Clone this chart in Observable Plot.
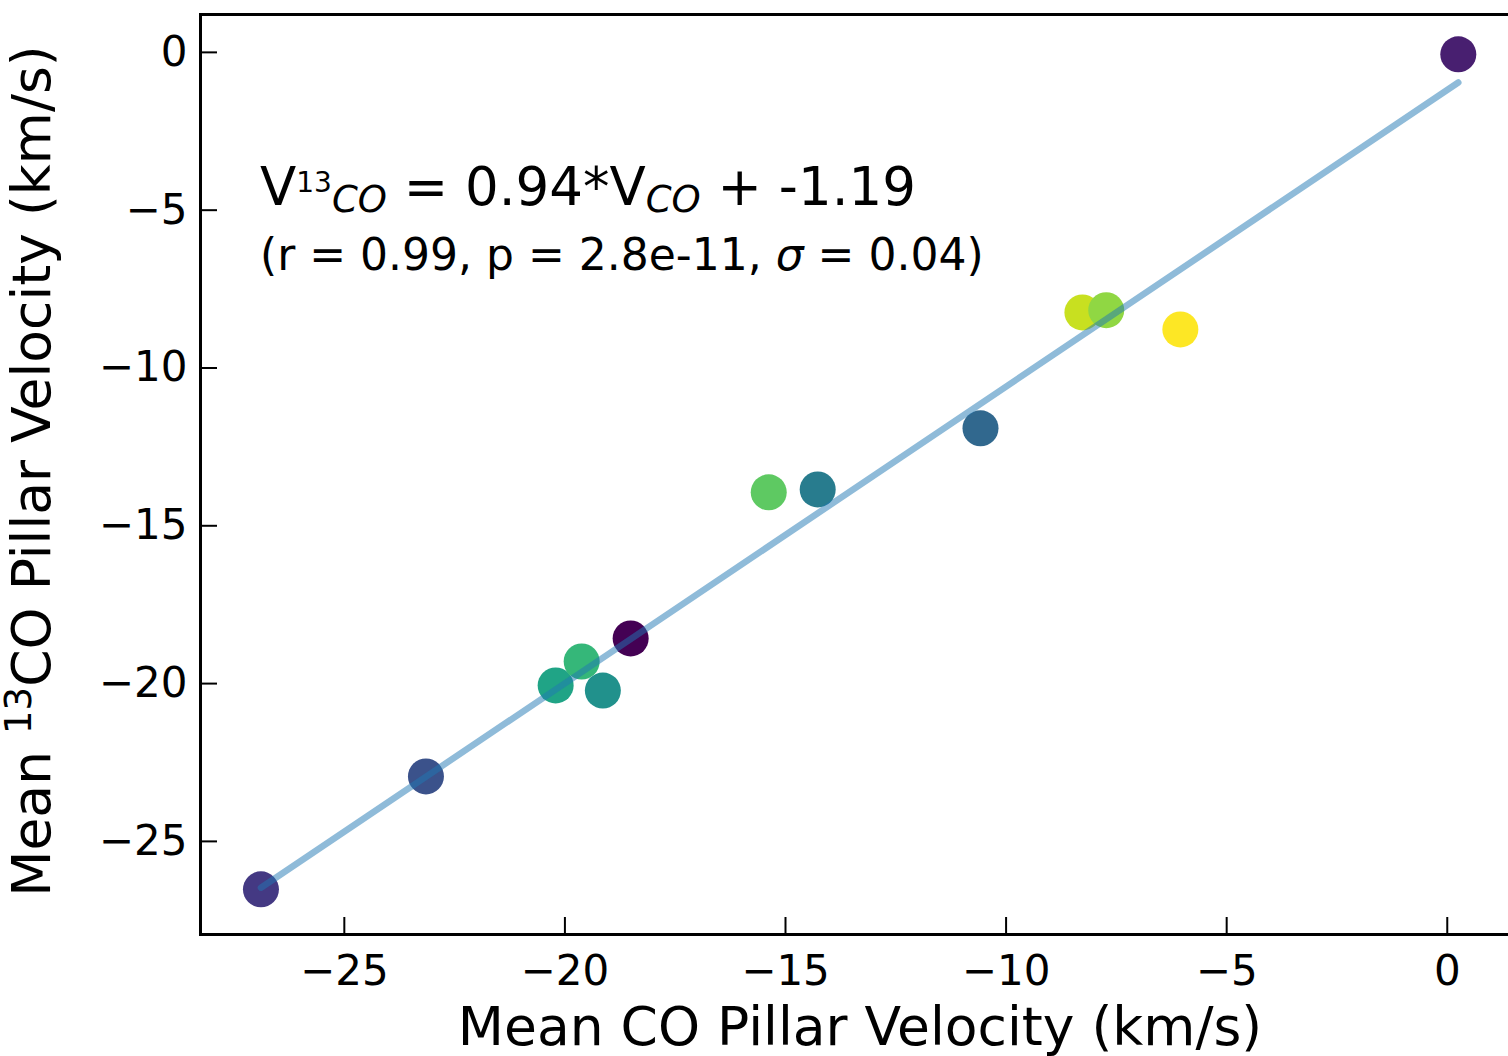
<!DOCTYPE html>
<html>
<head>
<meta charset="utf-8">
<script src="https://cdn.jsdelivr.net/npm/d3@7"></script>
<script src="https://cdn.jsdelivr.net/npm/@observablehq/plot@0.6"></script>
<style>
  html, body { margin: 0; padding: 0; background: #fff; overflow: hidden; }
  #chart { width: 1508px; height: 1056px; overflow: hidden; }
  #chart svg { display: block; max-width: none !important; }
</style>
</head>
<body>
<div id="chart"></div>
<script>
// Mean pillar velocities (km/s): CO on x, 13CO on y
const coVel   = [0.25, -26.89, -23.15, -18.51, -20.21, -19.62, -19.14, -15.38, -14.27, -10.58, -8.27, -7.73, -6.05];
const co13Vel = [-0.06, -26.52, -22.94, -18.57, -20.06, -19.30, -20.22, -13.94, -13.85, -11.91, -8.24, -8.17, -8.78];
// Colour index of each pillar (viridis, 0..12)
const colorRank = [1, 2, 3, 0, 7, 8, 6, 9, 5, 4, 11, 10, 12];

// Linear fit V13CO = slope * VCO + intercept
const fitSlope = 0.94;
const fitIntercept = -1.19;
const fitStats = { r: "0.99", p: "2.8e-11", sigma: "0.04" };

// Axes
const xDomain = [-28.26, 1.66];
const yDomain = [-27.95, 1.2];
const xTicks = [-25, -20, -15, -10, -5, 0];
const yTicks = [0, -5, -10, -15, -20, -25];
const xLabel = "Mean CO Pillar Velocity (km/s)";

const W = 1530, H = 1056;
const M = { top: 14, right: 10, bottom: 122, left: 200 };
const plotW = W - M.left - M.right;
const plotH = H - M.top - M.bottom;
const tickLen = 17;

const points = coVel.map((x, i) => ({ x, y: co13Vel[i], c: colorRank[i] }));
const fitLine = d3.extent(coVel).map(x => ({ x, y: fitSlope * x + fitIntercept }));
const fmt = d => d < 0 ? "\u2212" + Math.abs(d) : String(d);

const chart = Plot.plot({
  width: W,
  height: H,
  marginTop: M.top,
  marginRight: M.right,
  marginBottom: M.bottom,
  marginLeft: M.left,
  style: { fontFamily: "'DejaVu Sans', sans-serif", fontSize: "42px", color: "black", background: "white", overflow: "visible", maxWidth: "none" },
  x: { domain: xDomain },
  y: { domain: yDomain },
  color: { type: "linear", scheme: "viridis", domain: [0, 12] },
  marks: [
    Plot.dot(points, { x: "x", y: "y", r: 18, fill: "c" }),
    Plot.line(fitLine, { x: "x", y: "y", stroke: "#1f77b4", strokeOpacity: 0.5, strokeWidth: 6.5 }),
    Plot.tickX(xTicks, { x: d => d, insetTop: plotH - tickLen, stroke: "black", strokeWidth: 2 }),
    Plot.tickY(yTicks, { y: d => d, insetRight: plotW - tickLen, stroke: "black", strokeWidth: 2 }),
    Plot.axisX({ ticks: xTicks, tickSize: 0, tickPadding: 21, tickFormat: fmt, label: null, fontSize: 42 }),
    Plot.axisY({ ticks: yTicks, tickSize: 0, tickPadding: 13, tickFormat: fmt, label: null, fontSize: 42 }),
    Plot.frame({ stroke: "black", strokeWidth: 3 })
  ]
});

document.getElementById("chart").appendChild(chart);

const svg = d3.select(chart);
const font = "'DejaVu Sans', sans-serif";

// Fit equation
const eq = svg.append("text")
  .attr("x", M.left + 60).attr("y", M.top + 191)
  .attr("text-anchor", "start")
  .attr("font-family", font).attr("font-size", 53).attr("fill", "black")
  .style("white-space", "pre");
eq.append("tspan").text("V");
eq.append("tspan").attr("font-size", 28).attr("dy", -13).text("13");
eq.append("tspan").attr("font-size", 37).attr("font-style", "italic").attr("dy", 20).text("CO");
eq.append("tspan").attr("dy", -7).text(` = ${fitSlope}*V`);
eq.append("tspan").attr("font-size", 37).attr("font-style", "italic").attr("dy", 7).text("CO");
eq.append("tspan").attr("dy", -7).text(` + ${fitIntercept}`);

// Fit statistics
const st = svg.append("text")
  .attr("x", M.left + 60).attr("y", M.top + 256)
  .attr("text-anchor", "start")
  .attr("font-family", font).attr("font-size", 44).attr("fill", "black")
  .style("white-space", "pre");
st.append("tspan").text(`(r = ${fitStats.r}, p = ${fitStats.p}, `);
st.append("tspan").attr("font-style", "italic").text("\u03C3");
st.append("tspan").text(` = ${fitStats.sigma})`);

// x-axis title
svg.append("text")
  .attr("x", M.left + plotW / 2).attr("y", M.top + plotH + 111)
  .attr("text-anchor", "middle")
  .attr("font-family", font).attr("font-size", 53.5).attr("fill", "black")
  .text(xLabel);

// y-axis title with superscript isotope
const yl = svg.append("text")
  .attr("transform", `translate(50,${M.top + plotH / 2 - 3}) rotate(-90)`)
  .attr("text-anchor", "middle")
  .attr("font-family", font).attr("font-size", 53.5).attr("fill", "black")
  .style("white-space", "pre");
yl.append("tspan").text("Mean ");
yl.append("tspan").attr("font-size", 37).attr("dy", -19).text("13");
yl.append("tspan").attr("dy", 19).text("CO Pillar Velocity (km/s)");
</script>
</body>
</html>
